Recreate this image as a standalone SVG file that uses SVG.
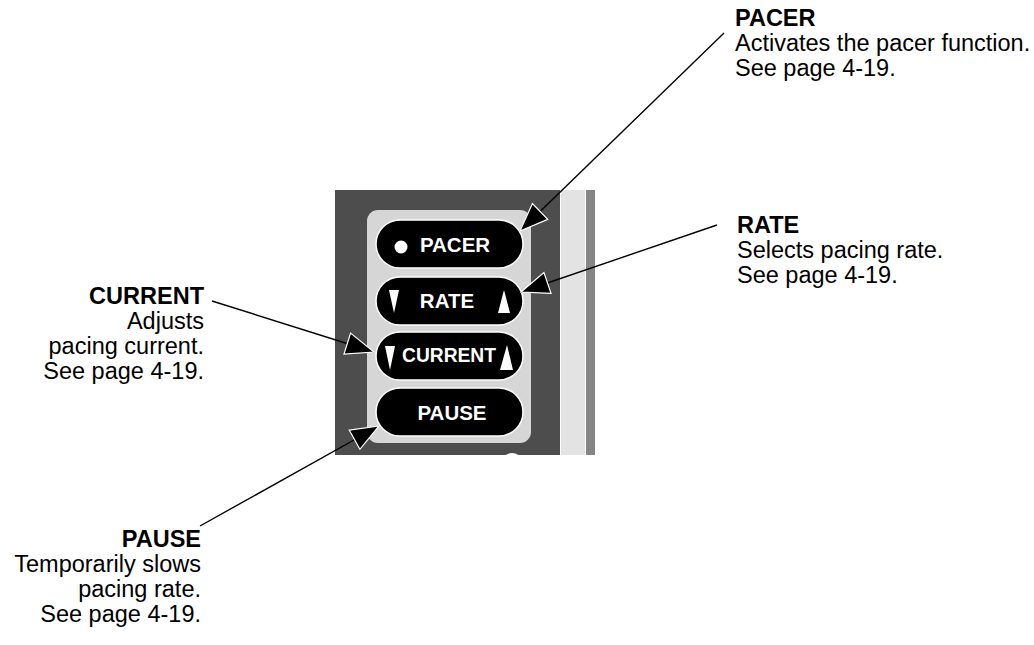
<svg xmlns="http://www.w3.org/2000/svg" width="1034" height="645" viewBox="0 0 1034 645">
<style>
.lbl{font-family:"Liberation Sans",Arial,sans-serif;font-size:23.5px;fill:#000}
.b{font-weight:bold}
.btn{fill:#000;stroke:#fff;stroke-width:1.5}
.bt{font-family:"Liberation Sans",Arial,sans-serif;font-weight:bold;font-size:20.5px;fill:#fff;text-anchor:middle}
.tri{fill:#fff}
.conn{stroke:#000;stroke-width:1.4;fill:none;marker-end:url(#ah)}
</style>
<defs>
<marker id="ah" viewBox="-1 -1 30 24" refX="28" refY="11" markerWidth="30" markerHeight="24" orient="auto" markerUnits="userSpaceOnUse">
<path d="M0,0 L28,11 L0,22 z" fill="#000" stroke="#fff" stroke-width="1.2" stroke-linejoin="miter"/>
</marker>
<clipPath id="pc"><rect x="335" y="190" width="225" height="265"/></clipPath>
</defs>
<rect width="1034" height="645" fill="#fff"/>
<g id="panel">
<rect x="335" y="190" width="225" height="265" fill="#4d4d4d"/>
<rect x="561" y="190" width="24" height="265" fill="#e3e3e3"/>
<rect x="586" y="190" width="9" height="265" fill="#858585"/>
<rect x="367" y="210" width="164" height="233" rx="11" fill="#d6d6d6"/>
<circle cx="512" cy="464" r="11" fill="#fff" clip-path="url(#pc)"/>
</g>
<g id="btn-pacer">
<rect class="btn" x="376" y="220" width="147" height="48" rx="24"/>
<circle cx="401" cy="247" r="6.5" fill="#fff"/>
<text class="bt" x="455" y="252">PACER</text>
</g>
<g id="btn-rate">
<rect class="btn" x="376" y="277" width="147" height="48" rx="24"/>
<polygon class="tri" points="389,290 399,290 394,313"/>
<polygon class="tri" points="498,313 510,313 504,290"/>
<text class="bt" x="447" y="308">RATE</text>
</g>
<g id="btn-current">
<rect class="btn" x="376" y="332" width="147" height="48" rx="24"/>
<polygon class="tri" points="385,346 395,346 390,370"/>
<polygon class="tri" points="500,370 513,370 507,345"/>
<text class="bt" x="449" y="362" font-size="19.5" textLength="94" lengthAdjust="spacingAndGlyphs">CURRENT</text>
</g>
<g id="btn-pause">
<rect class="btn" x="376" y="388" width="147" height="48" rx="24"/>
<text class="bt" x="452" y="420">PAUSE</text>
</g>
<g id="connectors">
<line class="conn" x1="724" y1="33" x2="520" y2="231"/>
<line class="conn" x1="717" y1="225" x2="521" y2="292"/>
<line class="conn" x1="212" y1="301" x2="374" y2="352"/>
<line class="conn" x1="200" y1="526" x2="379" y2="426"/>
</g>
<g id="label-pacer">
<text class="lbl b" x="735" y="26">PACER</text>
<text class="lbl" x="735" y="51">Activates the pacer function.</text>
<text class="lbl" x="735" y="76">See page 4-19.</text>
</g>
<g id="label-rate">
<text class="lbl b" x="737" y="233">RATE</text>
<text class="lbl" x="737" y="258">Selects pacing rate.</text>
<text class="lbl" x="737" y="283">See page 4-19.</text>
</g>
<g id="label-current" text-anchor="end">
<text class="lbl b" x="204" y="304">CURRENT</text>
<text class="lbl" x="204" y="329">Adjusts</text>
<text class="lbl" x="204" y="354">pacing current.</text>
<text class="lbl" x="204" y="379">See page 4-19.</text>
</g>
<g id="label-pause" text-anchor="end">
<text class="lbl b" x="201" y="547">PAUSE</text>
<text class="lbl" x="201" y="572">Temporarily slows</text>
<text class="lbl" x="201" y="597">pacing rate.</text>
<text class="lbl" x="201" y="622">See page 4-19.</text>
</g>
</svg>
